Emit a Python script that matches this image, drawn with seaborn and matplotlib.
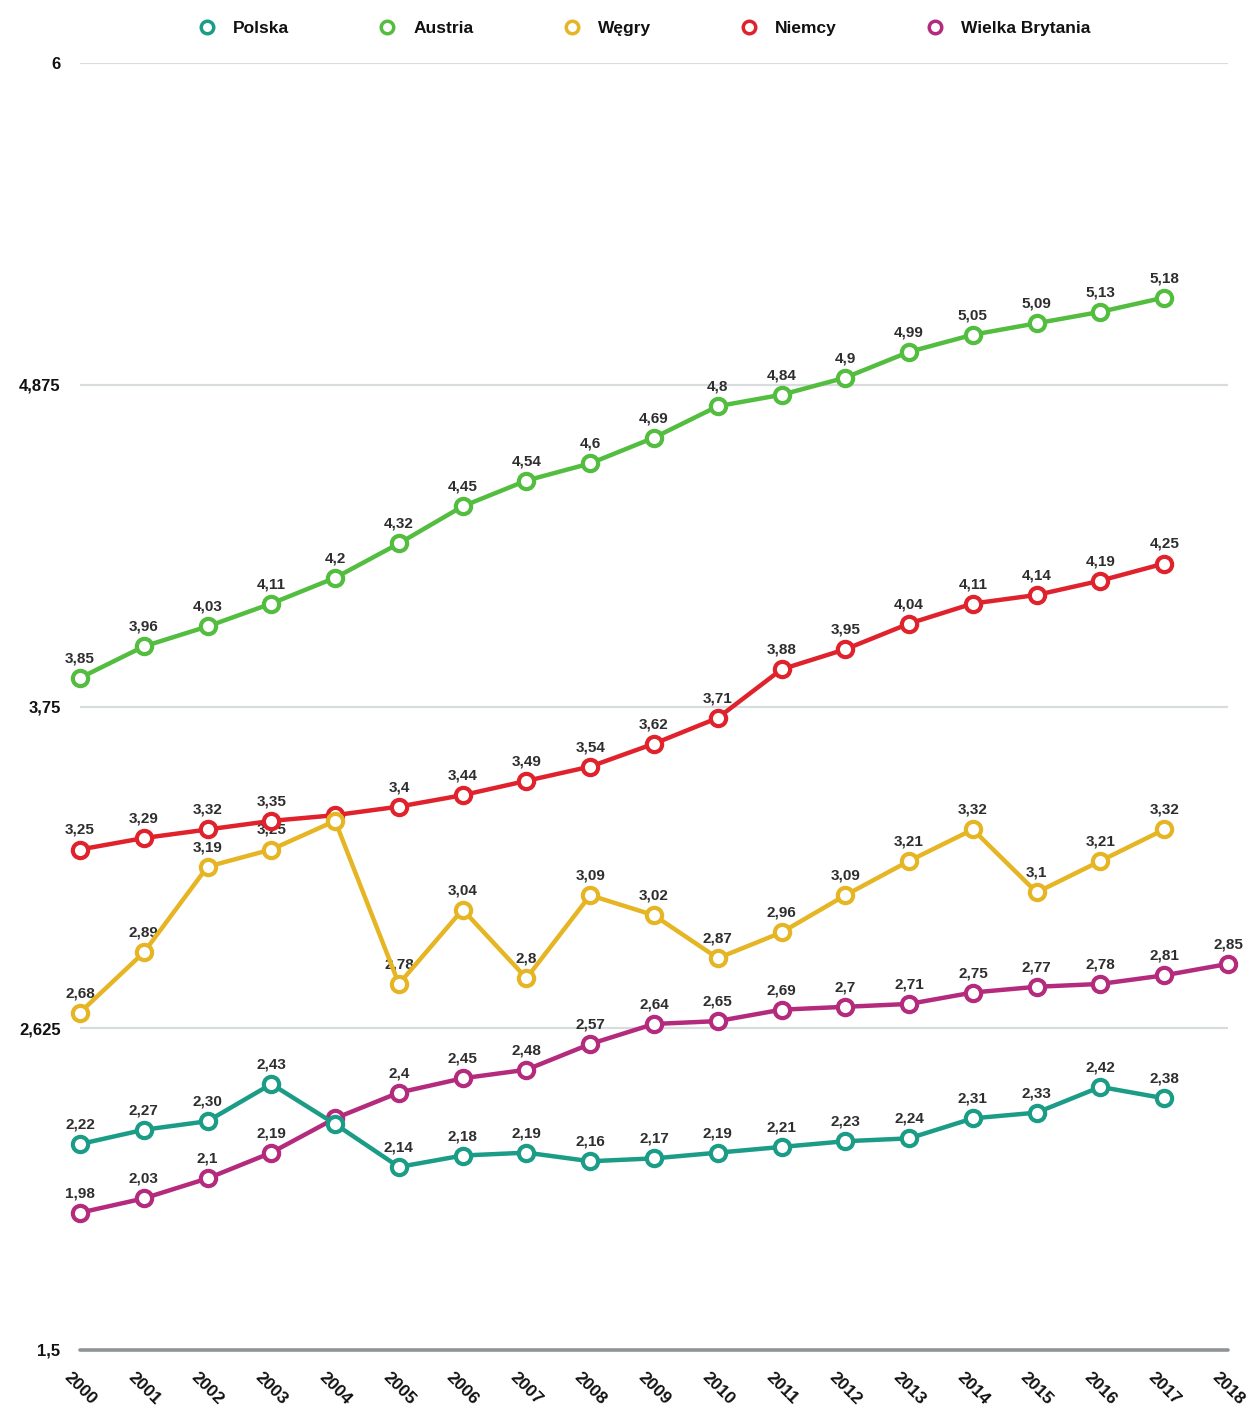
import matplotlib
matplotlib.use("Agg")
import matplotlib.pyplot as plt
from matplotlib.lines import Line2D
import seaborn as sns
import pandas as pd

sns.set_theme(style="white")
plt.rcParams['font.family'] = ['Liberation Sans', 'DejaVu Sans']

years_all = list(range(2000, 2019))

series_names = ["Polska", "Austria", "Węgry", "Niemcy", "Wielka Brytania"]
colors = ["#1b9c86", "#52bd3f", "#e6b523", "#e0222c", "#b42a7c"]

polska_years = list(range(2000, 2018))
polska = [2.22, 2.27, 2.30, 2.43, 2.29, 2.14, 2.18, 2.19, 2.16, 2.17, 2.19, 2.21, 2.23, 2.24, 2.31, 2.33, 2.42, 2.38]
polska_labels = ["2,22", "2,27", "2,30", "2,43", None, "2,14", "2,18", "2,19", "2,16", "2,17", "2,19", "2,21", "2,23", "2,24", "2,31", "2,33", "2,42", "2,38"]

austria_years = list(range(2000, 2018))
austria = [3.85, 3.96, 4.03, 4.11, 4.2, 4.32, 4.45, 4.54, 4.6, 4.69, 4.8, 4.84, 4.9, 4.99, 5.05, 5.09, 5.13, 5.18]
austria_labels = ["3,85", "3,96", "4,03", "4,11", "4,2", "4,32", "4,45", "4,54", "4,6", "4,69", "4,8", "4,84", "4,9", "4,99", "5,05", "5,09", "5,13", "5,18"]

wegry_years = list(range(2000, 2018))
wegry = [2.68, 2.89, 3.19, 3.25, 3.35, 2.78, 3.04, 2.8, 3.09, 3.02, 2.87, 2.96, 3.09, 3.21, 3.32, 3.1, 3.21, 3.32]
wegry_labels = ["2,68", "2,89", "3,19", "3,25", None, "2,78", "3,04", "2,8", "3,09", "3,02", "2,87", "2,96", "3,09", "3,21", "3,32", "3,1", "3,21", "3,32"]

niemcy_years = list(range(2000, 2018))
niemcy = [3.25, 3.29, 3.32, 3.35, 3.37, 3.4, 3.44, 3.49, 3.54, 3.62, 3.71, 3.88, 3.95, 4.04, 4.11, 4.14, 4.19, 4.25]
niemcy_labels = ["3,25", "3,29", "3,32", "3,35", None, "3,4", "3,44", "3,49", "3,54", "3,62", "3,71", "3,88", "3,95", "4,04", "4,11", "4,14", "4,19", "4,25"]

wb_years = list(range(2000, 2019))
wb = [1.98, 2.03, 2.1, 2.19, 2.31, 2.4, 2.45, 2.48, 2.57, 2.64, 2.65, 2.69, 2.7, 2.71, 2.75, 2.77, 2.78, 2.81, 2.85]
wb_labels = ["1,98", "2,03", "2,1", "2,19", None, "2,4", "2,45", "2,48", "2,57", "2,64", "2,65", "2,69", "2,7", "2,71", "2,75", "2,77", "2,78", "2,81", "2,85"]

y_ticks = [1.5, 2.625, 3.75, 4.875, 6]
y_tick_labels = ["1,5", "2,625", "3,75", "4,875", "6"]

data = {
    "Polska": (polska_years, polska, polska_labels),
    "Austria": (austria_years, austria, austria_labels),
    "Węgry": (wegry_years, wegry, wegry_labels),
    "Niemcy": (niemcy_years, niemcy, niemcy_labels),
    "Wielka Brytania": (wb_years, wb, wb_labels),
}
zorders = {"Polska": 6, "Austria": 5, "Węgry": 5, "Niemcy": 4, "Wielka Brytania": 4}

fig = plt.figure(figsize=(12.51, 14.17), dpi=100)
ax = fig.add_axes([80 / 1251, 1 - 1350 / 1417, (1228 - 80) / 1251, (1350 - 63) / 1417])

# gridlines
for yt in y_ticks:
    if yt == 1.5:
        ax.axhline(yt, color="#8e9396", lw=2.6, zorder=1, clip_on=False)
    else:
        ax.axhline(yt, color="#d9dcde", lw=1.6, zorder=1)

label_color = "#2e2e2e"
for name, color in zip(series_names, colors):
    yrs, vals, labs = data[name]
    df = pd.DataFrame({"year": yrs, "value": vals})
    sns.lineplot(data=df, x="year", y="value", ax=ax, color=color, lw=3.2,
                 marker="o", markersize=11, markerfacecolor="white",
                 markeredgecolor=color, markeredgewidth=3.0,
                 zorder=zorders[name], clip_on=False, legend=False)
    for x, v, lab in zip(yrs, vals, labs):
        if lab is None:
            continue
        ax.annotate(lab, (x, v), xytext=(0, 9), textcoords="offset points",
                    ha="center", va="bottom", fontsize=11, fontweight="bold",
                    color=label_color, zorder=3)

ax.set_xlim(2000, 2018)
ax.set_ylim(1.5, 6)
ax.set_xticks(years_all)
ax.set_xticklabels([str(y) for y in years_all], rotation=-45, ha="center",
                   fontsize=12.5, fontweight="bold", color="#111111")
ax.set_yticks(y_ticks)
ax.set_yticklabels(y_tick_labels, fontsize=12, fontweight="bold", color="#111111")
ax.tick_params(axis="both", length=0)
ax.tick_params(axis="y", pad=14)
ax.tick_params(axis="x", pad=14)
ax.set_xlabel("")
ax.set_ylabel("")
for s in ax.spines.values():
    s.set_visible(False)
ax.grid(False)

handles = [Line2D([], [], linestyle="none", marker="o", markersize=9,
                  markerfacecolor="white", markeredgecolor=c, markeredgewidth=2.5)
           for c in colors]
leg = fig.legend(handles, series_names, loc="center", bbox_to_anchor=(640 / 1251, 1 - 28 / 1417),
                 ncol=5, frameon=False, columnspacing=4.65, handletextpad=0.5,
                 prop={"size": 12.5, "weight": "bold"})
for t in leg.get_texts():
    t.set_color("#111111")

fig.savefig("out.png", dpi=100, facecolor="white")
